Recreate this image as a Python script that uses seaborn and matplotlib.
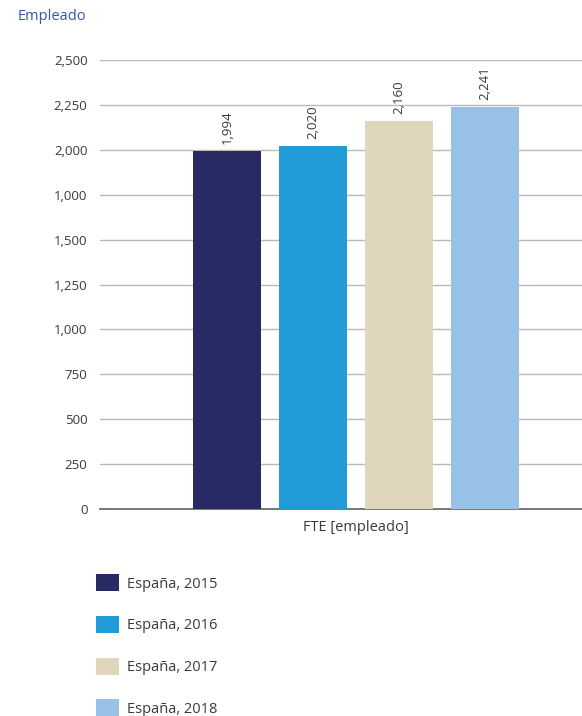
import matplotlib
matplotlib.use("Agg")
import matplotlib.pyplot as plt
from matplotlib.patches import Patch
import seaborn as sns
import pandas as pd

# Chart data
category = ["FTE [empleado]"]
series = ["España, 2015", "España, 2016", "España, 2017", "España, 2018"]
values = [1994, 2020, 2160, 2241]
value_labels = ["1,994", "2,020", "2,160", "2,241"]
colors = ["#282a64", "#219cd8", "#e0d6bc", "#98c1e8"]
ytick_values = [0, 250, 500, 750, 1000, 1250, 1500, 1750, 2000, 2250, 2500]
ytick_labels = ["0", "250", "500", "750", "1,000", "1,250", "1,500", "1,000",
                "2,000", "2,250", "2,500"]

df = pd.DataFrame({
    "cat": category * len(series),
    "serie": series,
    "valor": values,
})

sns.set_style("white")
plt.rcParams["font.family"] = ["Open Sans", "DejaVu Sans"]

fig = plt.figure(figsize=(5.82, 7.16), dpi=100)
ax = fig.add_axes([100 / 582, 1 - 509 / 716, 482 / 582, 449 / 716])

sns.barplot(data=df, x="cat", y="valor", hue="serie", palette=colors,
            hue_order=series, width=0.8, gap=0.21, saturation=1,
            linewidth=0, edgecolor="none",
            legend=False, ax=ax, zorder=3)

for cont, lab in zip(ax.containers, value_labels):
    ax.bar_label(cont, labels=[lab], rotation=90, padding=5,
                 fontsize=9.5, color="#3a3a3a")

ax.set_xlim(-0.595, 0.526)
ax.set_ylim(0, 2500)
ax.set_yticks(ytick_values)
ax.set_yticklabels(ytick_labels)
ax.yaxis.grid(True, color="#bdb8b5", linewidth=1, zorder=0)
ax.set_axisbelow(True)
ax.tick_params(axis="y", length=0, pad=9, labelsize=9.5, labelcolor="#3a3a3a")
ax.tick_params(axis="x", length=0, pad=8, labelsize=10.5, labelcolor="#3a3a3a")
ax.set_xlabel("")
ax.set_ylabel("")
for side in ["left", "right", "top"]:
    ax.spines[side].set_visible(False)
ax.spines["bottom"].set_color("#7a7776")
ax.spines["bottom"].set_linewidth(1.4)

fig.text(18 / 582, 1 - 17 / 716, "Empleado", fontsize=10.5, color="#3358a5",
         va="center", ha="left")

handles = [Patch(facecolor=c, edgecolor="none") for c in colors]
fig.legend(handles, series, loc="upper left",
           bbox_to_anchor=(83 / 582, 1 - 561 / 716), frameon=False,
           fontsize=10.5, handlelength=1.55, handleheight=1.45,
           labelspacing=1.66, handletextpad=0.6, labelcolor="#3a3a3a")

fig.savefig("out.png", dpi=100)
